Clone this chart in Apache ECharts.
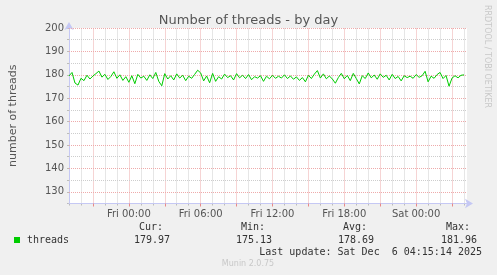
<!DOCTYPE html>
<html><head><meta charset="utf-8">
<script src="https://cdn.jsdelivr.net/npm/echarts@6/dist/echarts.min.js"></script>
<style>html,body{margin:0;padding:0;background:#f0f0f0}#c{width:497px;height:275px}</style>
</head><body><div id="c"></div>
<script>
// 15-minute samples from Thu 19:00 to Sat 04:15
const startHour = 19, stepMin = 15, nPoints = 134;
const dayNames = ['Thu','Fri','Sat'];
const categories = [];
for (let i = 0; i < nPoints; i++) {
  const m = startHour * 60 + i * stepMin;
  const d = Math.floor(m / 1440), hh = Math.floor((m % 1440) / 60), mm = m % 60;
  categories.push(dayNames[d] + ' ' + String(hh).padStart(2,'0') + ':' + String(mm).padStart(2,'0'));
}
const threads = [
179.5,181,176.5,175.6,178.5,177.5,179.8,178.2,179.5,180.5,
181.6,179,180.2,178,179.3,181.3,178.5,180,177.6,179.2,
176.8,179.6,176.2,180.2,178.6,179.4,177.6,180,178.4,181,
177.2,175.3,180.5,178.2,179.6,177.8,180.4,178.6,179.8,177.5,
179.4,178.5,180.2,181.96,180.8,177.4,179.5,176.6,180.6,177.2,
179.2,178.2,180.3,178.8,179.6,177.8,180.5,178.7,179.8,178.4,
180.1,177.9,179.2,178.6,179.6,177.2,179.4,178.3,179.8,178.5,
179.4,178.6,180,178.4,179.5,178.1,179.1,177.6,178.8,177,
179.8,178.4,180.3,181.8,178.6,180.4,178.3,179.5,178.2,176.4,
178.8,180.6,178.3,179.7,177.5,180.6,178.4,176.1,179.6,178.4,
180.8,178.7,179.9,178.1,180.4,178.9,179.8,177.8,180.2,178.4,
179.3,177.4,179.6,178.8,179.4,178.5,180.1,178.9,179.6,181.5,
177,179.4,178.5,180.1,181,178.4,179.7,175.13,178.6,179.6,
178.7,179.8,179.97,null
];
const yMajor = [130,140,150,160,170,180,190,200];
const yMinor = [135,145,155,165,175,185,195];
const legendName = 'threads';
const statHeads = ['Cur:','Min:','Avg:','Max:'];
const statVals = ['179.97','175.13','178.69','181.96'];
const lastUpdate = 'Last update: Sat Dec  6 04:15:14 2025';

const isRed = i => i % 12 === 8;
const isGray = i => i % 4 === 0 && !isRed(i);
const isLabel = i => i % 24 === 20;
const axisBlue = '#c5c8f4';
const red = '#eeaaaa', gray = '#cdcdcd';
const mono = 'DejaVu Sans Mono';

const gridLines = [];
categories.forEach((c, i) => {
  if (isRed(i)) gridLines.push({xAxis: c, lineStyle:{color:red}});
  else if (isGray(i) && i > 0) gridLines.push({xAxis: c, lineStyle:{color:gray}});
});
yMinor.forEach(v => gridLines.push({yAxis: v, lineStyle:{color:gray}}));
yMajor.forEach(v => gridLines.push({yAxis: v, lineStyle:{color:red}}));

const chart = echarts.init(document.getElementById('c'), null, {renderer:'canvas'});
const statX = [170, 272, 374, 477];
const graphics = [
  {type:'rect', shape:{x:14,y:237,width:6,height:6}, style:{fill:'#00cc00'}},
  {type:'text', x:27, y:240, style:{text:legendName, font:'10px '+mono, fill:'#333', verticalAlign:'middle'}},
  {type:'text', x:482, y:252, style:{text:lastUpdate, font:'10px '+mono, fill:'#333', align:'right', verticalAlign:'middle'}},
  {type:'text', x:248, y:264, style:{text:'Munin 2.0.75', font:'8px DejaVu Sans', fill:'#c8c8c8', align:'center', verticalAlign:'middle'}},
  {type:'text', x:487, y:5, rotation:-Math.PI/2, style:{text:'RRDTOOL / TOBI OETIKER', font:'8px DejaVu Sans', fill:'#c8c8c8', align:'left', verticalAlign:'middle'}}
];
statHeads.forEach((h, k) => {
  graphics.push({type:'text', x:statX[k]-7, y:227, style:{text:h, font:'10px '+mono, fill:'#333', align:'right', verticalAlign:'middle'}});
  graphics.push({type:'text', x:statX[k], y:240, style:{text:statVals[k], font:'10px '+mono, fill:'#333', align:'right', verticalAlign:'middle'}});
});

chart.setOption({
  backgroundColor:'#f0f0f0',
  animation:false,
  title:{text:'Number of threads - by day', left:'center', top:9,
    textStyle:{fontFamily:'DejaVu Sans', fontSize:13, fontWeight:'normal', color:'#555'}},
  grid:{left:67, right:30, top:28, bottom:71.5, show:true, backgroundColor:'#fff', borderWidth:0},
  xAxis:[
    {type:'category', data:categories, boundaryGap:false,
      axisLine:{show:true, lineStyle:{color:axisBlue, width:1}, symbol:['none','arrow'], symbolSize:[7,8], symbolOffset:[0,6]},
      axisTick:{show:true, interval:(i)=>isRed(i), length:3, lineStyle:{color:'#e88888'}},
      axisLabel:{interval:(i)=>isLabel(i), formatter:v=>v.slice(0,9), fontFamily:'DejaVu Sans', fontSize:10, color:'#555', margin:6},
      splitLine:{show:false}, z:3},
    {type:'category', data:categories, boundaryGap:false, position:'bottom',
      axisLine:{show:false},
      axisTick:{show:true, interval:(i)=>isGray(i), length:2, lineStyle:{color:'#bbb'}},
      axisLabel:{show:false},
      splitLine:{show:false}, z:2}
  ],
  yAxis:{type:'value', min:125, max:200, interval:5,
    axisLine:{show:true, lineStyle:{color:axisBlue}, symbol:['none','arrow'], symbolSize:[7,8], symbolOffset:[0,6]},
    axisTick:{show:true, length:2, lineStyle:{color:'#bbb'}},
    axisLabel:{formatter:v=> yMajor.includes(v) ? String(v) : '', fontFamily:'DejaVu Sans', fontSize:10, color:'#555', margin:5},
    splitLine:{show:false},
    name:'number of threads', nameLocation:'middle', nameGap:50, nameRotate:90,
    nameTextStyle:{fontFamily:'DejaVu Sans', fontSize:11, color:'#555'}},
  series:[{type:'line', name:legendName, data:threads, xAxisIndex:0, showSymbol:false, symbol:'none',
    lineStyle:{color:'#00cc00', width:1}, connectNulls:false, z:5,
    markLine:{silent:true, symbol:['none','none'], label:{show:false}, animation:false, z:1,
      lineStyle:{type:[1,1], width:1}, emphasis:{disabled:true}, data:gridLines}}],
  graphic:graphics
});
</script></body></html>
